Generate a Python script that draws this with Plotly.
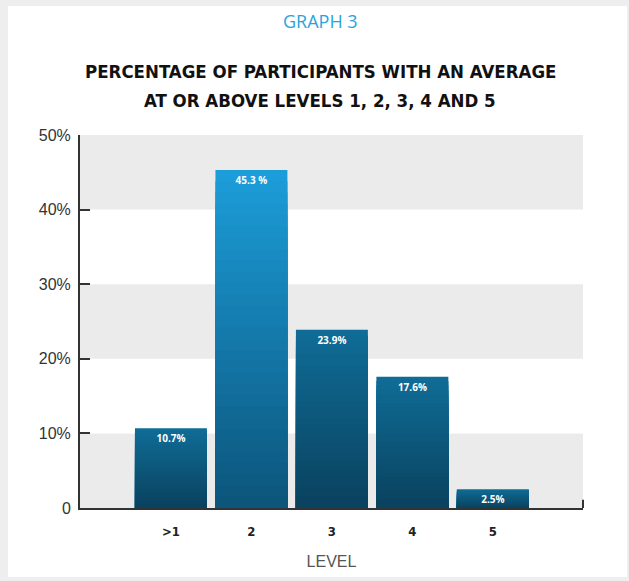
import plotly.graph_objects as go

# ---- data ----
levels = [">1", "2", "3", "4", "5"]
percent = [10.7, 45.3, 23.9, 17.6, 2.5]
labels = ["10.7%", "45.3 %", "23.9%", "17.6%", "2.5%"]
y_tickvals = [0, 10, 20, 30, 40, 50]
y_ticktext = ["0", "10%", "20%", "30%", "40%", "50%"]
band_ranges = [(0, 10), (20, 30), (40, 50)]

# ---- style ----
top_dark = (15, 108, 150)
bot_dark = (10, 66, 95)
top_hi = (28, 156, 216)
bot_hi = (12, 86, 124)
highlight_index = 1
N_LAYERS = 30
BAR_W = 0.894


def mix(a, b, t):
    return "rgb(%d,%d,%d)" % tuple(round(a[i] + (b[i] - a[i]) * t) for i in range(3))


fig = go.Figure()

# gradient built by overlaying progressively shorter, darker copies of each bar
for k in range(N_LAYERS):
    frac = 1 - k / N_LAYERS
    t = k / (N_LAYERS - 1)
    colors = [mix(top_hi, bot_hi, t) if i == highlight_index else mix(top_dark, bot_dark, t)
              for i in range(len(levels))]
    fig.add_trace(go.Bar(
        x=levels, y=[v * frac for v in percent], width=BAR_W,
        marker=dict(color=colors, line=dict(width=0)),
        hoverinfo="skip", showlegend=False,
    ))

# top layer carrying the labels
fig.add_trace(go.Bar(
    x=levels, y=percent, width=BAR_W,
    marker=dict(color="rgba(0,0,0,0)", line=dict(width=0)),
    text=labels, textposition="inside", insidetextanchor="end",
    textfont=dict(family="Open Sans", size=10, color="white", weight="bold"),
    textangle=0, showlegend=False,
))

shapes = [
    # white card over gray page frame
    dict(type="rect", xref="paper", yref="paper",
         x0=(8 - 80) / 503, x1=(627 - 80) / 503,
         y0=(508 - 577) / 373, y1=(508 - 6) / 373,
         fillcolor="white", line=dict(width=0), layer="below"),
]
for lo, hi in band_ranges:
    shapes.append(dict(type="rect", xref="x domain", yref="y", x0=0, x1=1, y0=lo, y1=hi,
                       fillcolor="#ebebeb", line=dict(width=0), layer="below"))
# small end tick at right of x axis
shapes.append(dict(type="line", xref="x domain", yref="y", x0=1, x1=1, y0=0, y1=1.1,
                   line=dict(color="#333333", width=2)))

title_font = dict(family="DejaVu Sans Condensed", size=18.5, color="#111111", weight="bold")
annotations = [
    dict(text="GRAPH 3", xref="paper", yref="paper", x=(320 - 80) / 503, y=(508 - 21) / 373,
         showarrow=False, font=dict(family="Open Sans", size=18, color="#2aa3dc"),
         xanchor="center", yanchor="middle"),
    dict(text="PERCENTAGE OF PARTICIPANTS WITH AN AVERAGE", xref="paper", yref="paper",
         x=(320 - 80) / 503, y=(508 - 71) / 373, showarrow=False, font=title_font,
         xanchor="center", yanchor="middle"),
    dict(text="AT OR ABOVE LEVELS 1, 2, 3, 4 AND 5", xref="paper", yref="paper",
         x=(320 - 80) / 503, y=(508 - 101) / 373, showarrow=False, font=title_font,
         xanchor="center", yanchor="middle"),
]

fig.update_layout(
    width=629, height=581,
    margin=dict(l=80, r=46, t=135, b=73),
    paper_bgcolor="#eeeeee",
    plot_bgcolor="rgba(0,0,0,0)",
    barmode="overlay",
    uniformtext=dict(mode="show", minsize=10),
    shapes=shapes,
    annotations=annotations,
    showlegend=False,
    xaxis=dict(
        type="category", range=[-1.13, 5.12],
        showline=True, linecolor="#333333", linewidth=2,
        showgrid=False, ticks="", zeroline=False,
        tickfont=dict(family="DejaVu Sans Condensed", size=13,
                      color="#222222", weight="bold"),
        ticklabelstandoff=10,
        title=dict(text="LEVEL", font=dict(family="Liberation Sans", size=16, color="#555555"),
                   standoff=18),
    ),
    yaxis=dict(
        range=[0, 50], tickvals=y_tickvals, ticktext=y_ticktext,
        showline=True, linecolor="#333333", linewidth=2,
        ticks="inside", ticklen=10, tickwidth=2, tickcolor="#333333",
        showgrid=False, zeroline=False,
        tickfont=dict(family="Liberation Sans", size=16, color="#333333"),
        ticklabelstandoff=4,
    ),
)

fig.write_html("out.html")
